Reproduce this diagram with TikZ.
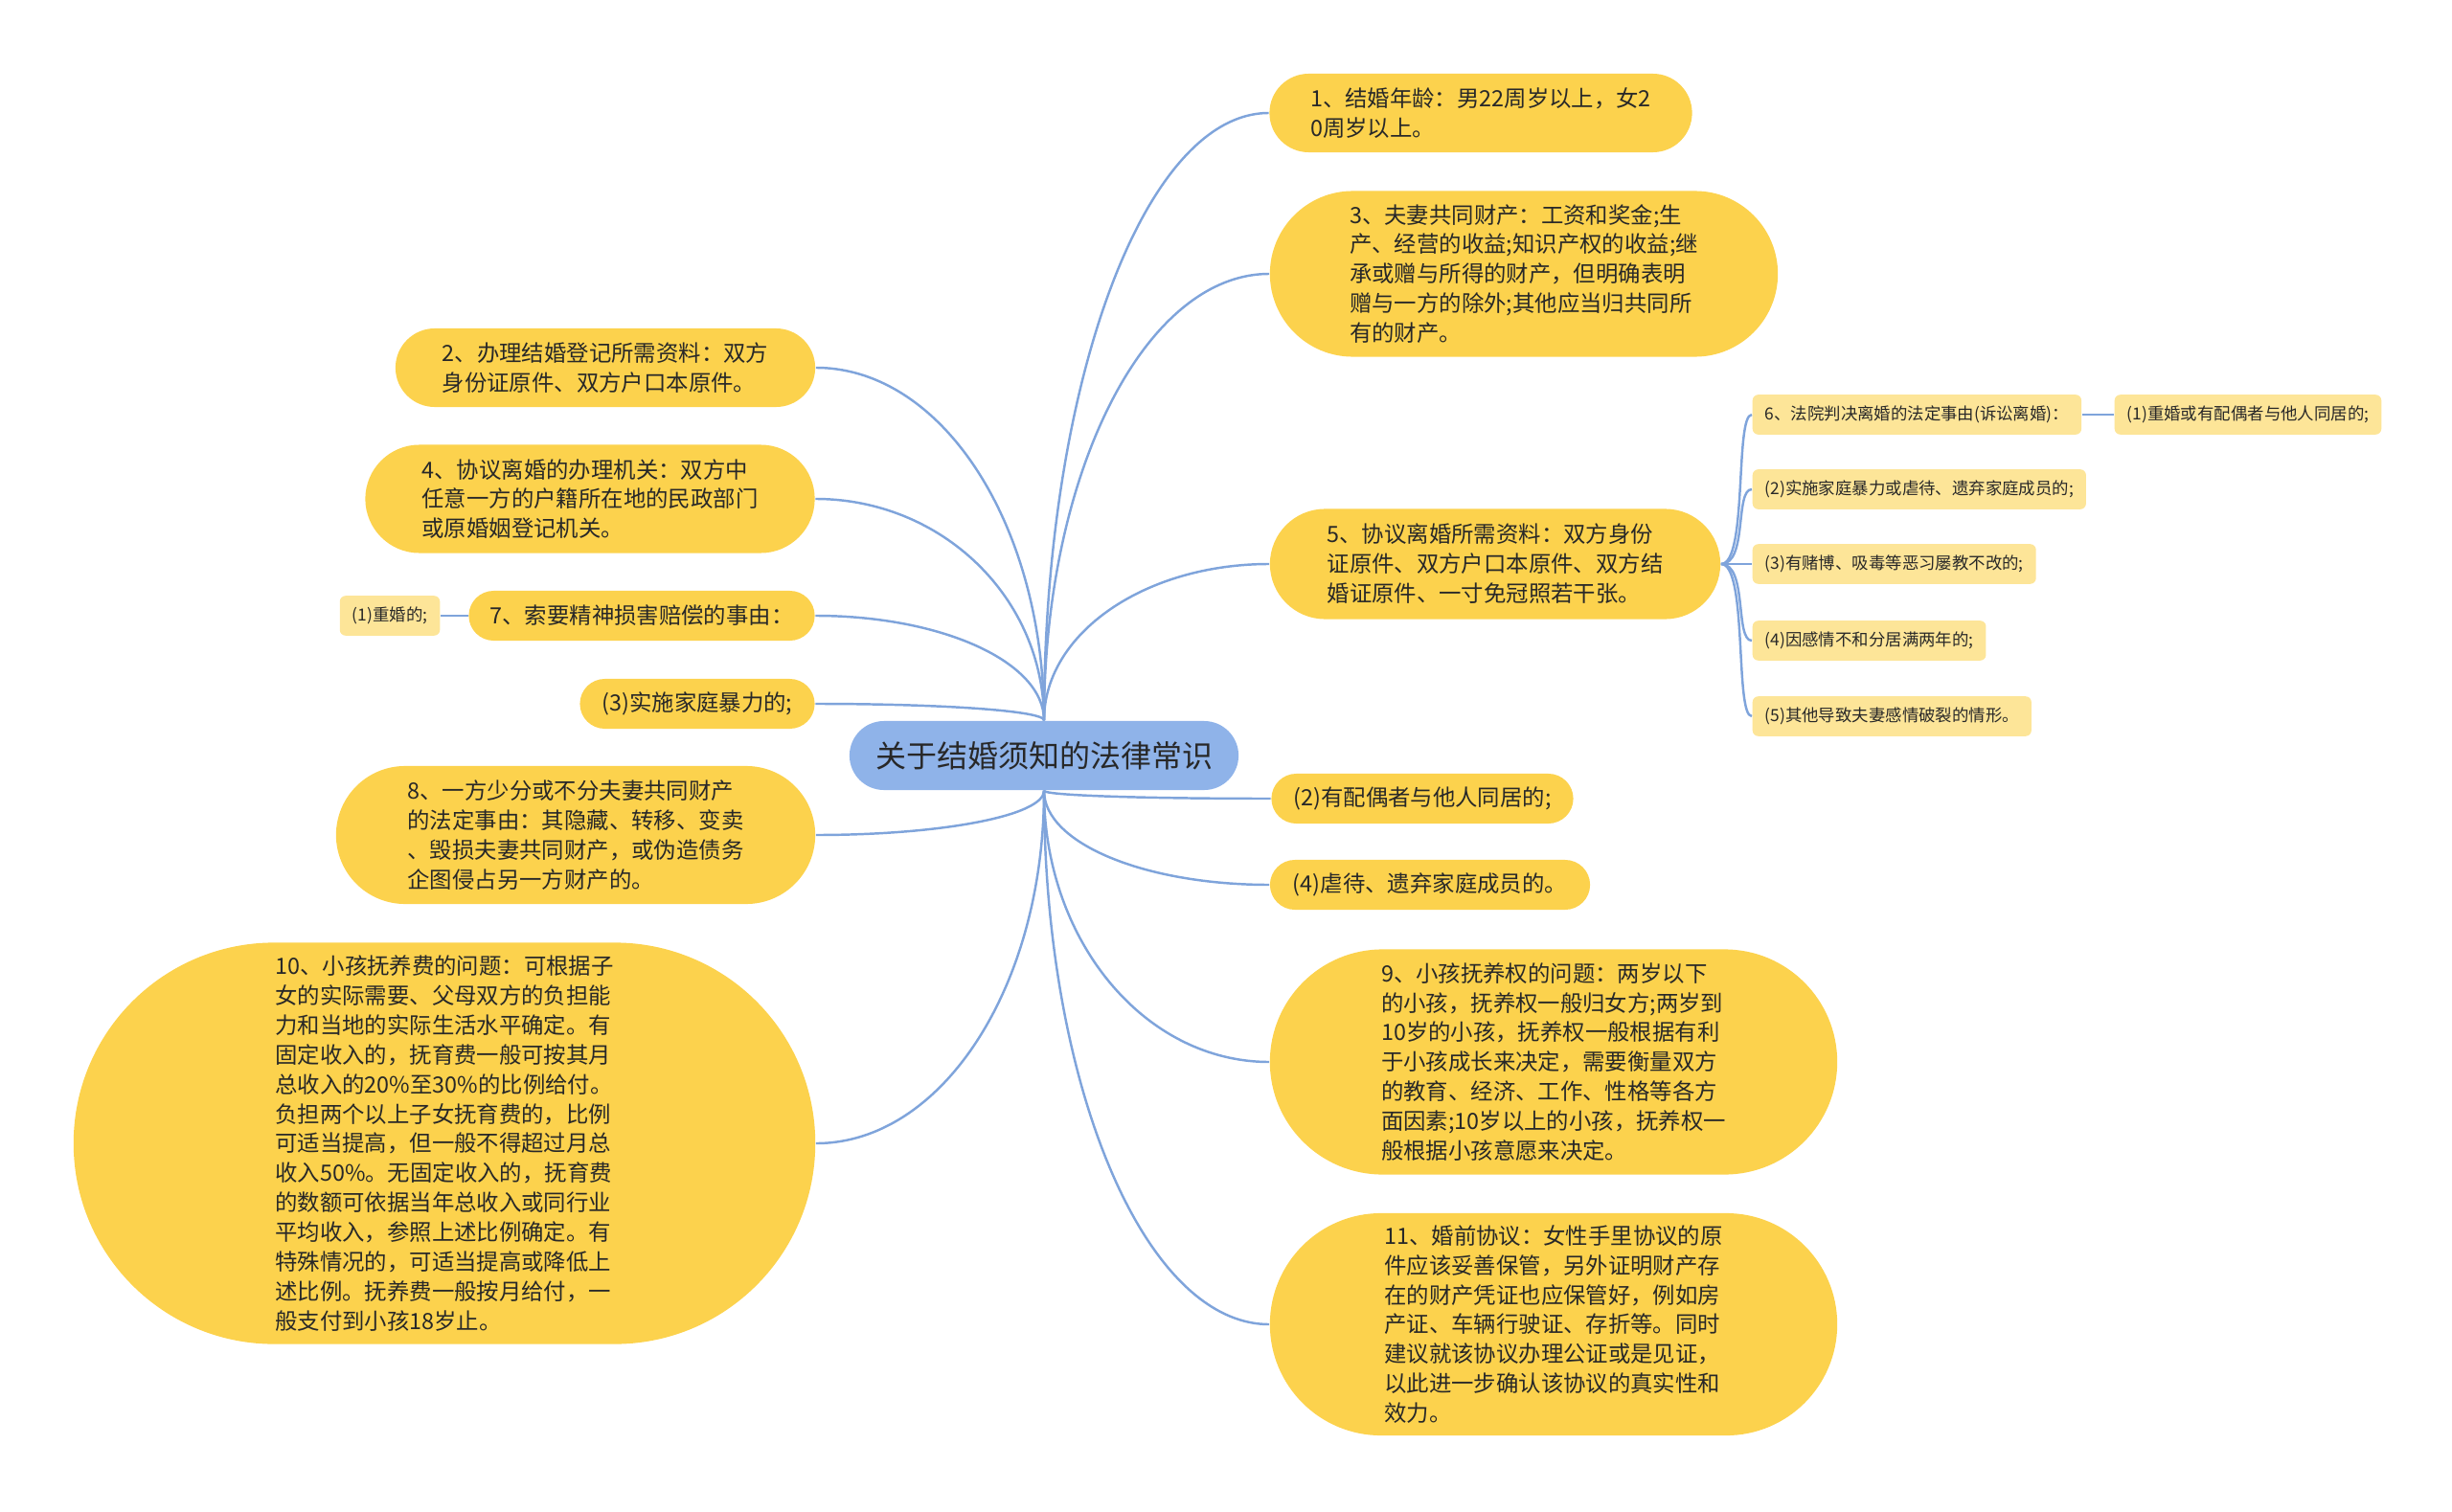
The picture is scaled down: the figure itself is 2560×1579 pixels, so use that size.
\documentclass[tikz,border=0pt]{standalone}
\usepackage{fontspec}
\setmainfont{Noto Sans CJK SC}
\usetikzlibrary{backgrounds}

\definecolor{rootblue}{RGB}{143,179,233}
\definecolor{topicyellow}{RGB}{252,210,77}
\definecolor{leafyellow}{RGB}{253,229,152}
\definecolor{linkblue}{RGB}{127,164,219}
\definecolor{textdark}{RGB}{40,40,40}

\begin{document}
\begin{tikzpicture}[
    x=0.01cm, y=-0.01cm,
    root/.style={rectangle, rounded corners=0.36cm, fill=rootblue, text=textdark, minimum width=4.06cm, minimum height=0.72cm, font=\fontsize{9.1}{11}\selectfont},
    topic/.style 2 args={rectangle, fill=topicyellow, text=textdark, align=left, inner sep=0.1cm, minimum width=#1cm, minimum height=#2cm, rounded corners=#2*0.5cm, font=\fontsize{6.65}{8.8}\selectfont},
    leaf/.style={rectangle, rounded corners=0.06cm, fill=leafyellow, text=textdark, inner xsep=0.13cm, minimum height=0.39cm, font=\fontsize{4.95}{6}\selectfont},
    link/.style={draw=linkblue, line width=0.7pt}
]
\useasboundingbox (0,0) rectangle (2560,1579);

% Root
\node[root] (root) at (1090,789) {关于结婚须知的法律常识};

% Right side
\node[topic={4.41}{0.82}] (n1) at (1546,118) {1、结婚年龄：男22周岁以上，女2\\0周岁以上。};
\node[topic={5.30}{1.73}] (n3) at (1591,286) {3、夫妻共同财产：工资和奖金;生\\产、经营的收益;知识产权的收益;继\\承或赠与所得的财产，但明确表明\\赠与一方的除外;其他应当归共同所\\有的财产。};
\node[topic={4.70}{1.15}] (n5) at (1561,589) {5、协议离婚所需资料：双方身份\\证原件、双方户口本原件、双方结\\婚证原件、一寸免冠照若干张。};
\node[topic={3.15}{0.52}] (p2) at (1485,834) {(2)有配偶者与他人同居的;};
\node[topic={3.34}{0.52}] (p4) at (1493,924) {(4)虐待、遗弃家庭成员的。};
\node[topic={5.92}{2.35}] (n9) at (1622,1109) {9、小孩抚养权的问题：两岁以下\\的小孩，抚养权一般归女方;两岁到\\10岁的小孩，抚养权一般根据有利\\于小孩成长来决定，需要衡量双方\\的教育、经济、工作、性格等各方\\面因素;10岁以上的小孩，抚养权一\\般根据小孩意愿来决定。};
\node[topic={5.92}{2.32}] (n11) at (1622,1383) {11、婚前协议：女性手里协议的原\\件应该妥善保管，另外证明财产存\\在的财产凭证也应保管好，例如房\\产证、车辆行驶证、存折等。同时\\建议就该协议办理公证或是见证，\\以此进一步确认该协议的真实性和\\效力。};

% Leaves of 5
\node[leaf, anchor=west] (n6) at (1829,433) {6、法院判决离婚的法定事由(诉讼离婚)：};
\node[leaf, anchor=west] (n61) at (2207,433) {(1)重婚或有配偶者与他人同居的;};
\node[leaf, anchor=west] (l2) at (1829,511) {(2)实施家庭暴力或虐待、遗弃家庭成员的;};
\node[leaf, anchor=west] (l3) at (1829,589) {(3)有赌博、吸毒等恶习屡教不改的;};
\node[leaf, anchor=west] (l4) at (1829,669) {(4)因感情不和分居满两年的;};
\node[leaf, anchor=west] (l5) at (1829,748) {(5)其他导致夫妻感情破裂的情形。};

% Left side
\node[topic={4.38}{0.82}] (n2) at (632,384) {2、办理结婚登记所需资料：双方\\身份证原件、双方户口本原件。};
\node[topic={4.69}{1.13}] (n4) at (616,521) {4、协议离婚的办理机关：双方中\\任意一方的户籍所在地的民政部门\\或原婚姻登记机关。};
\node[topic={3.61}{0.52}] (n7) at (670,643) {7、索要精神损害赔偿的事由：};
\node[leaf, anchor=east] (n71) at (460,643) {(1)重婚的;};
\node[topic={2.45}{0.52}] (c3) at (728,735) {(3)实施家庭暴力的;};
\node[topic={5.00}{1.44}] (n8) at (601,872) {8、一方少分或不分夫妻共同财产\\的法定事由：其隐藏、转移、变卖\\、毁损夫妻共同财产，或伪造债务\\企图侵占另一方财产的。};
\node[topic={7.74}{4.19}] (n10) at (464,1194) {10、小孩抚养费的问题：可根据子\\女的实际需要、父母双方的负担能\\力和当地的实际生活水平确定。有\\固定收入的，抚育费一般可按其月\\总收入的20\%至30\%的比例给付。\\负担两个以上子女抚育费的，比例\\可适当提高，但一般不得超过月总\\收入50\%。无固定收入的，抚育费\\的数额可依据当年总收入或同行业\\平均收入，参照上述比例确定。有\\特殊情况的，可适当提高或降低上\\述比例。抚养费一般按月给付，一\\般支付到小孩18岁止。};

% Links
\begin{scope}[on background layer]
\draw[link] (root.north) .. controls +(0,-351) and +(-130,0) .. (n1.west);
\draw[link] (root.north) .. controls +(0,-258) and +(-130,0) .. (n3.west);
\draw[link] (root.north) .. controls +(0,-91) and +(-130,0) .. (n5.west);
\draw[link] (root.south) .. controls +(0,5) and +(-130,0) .. (p2.west);
\draw[link] (root.south) .. controls +(0,55) and +(-130,0) .. (p4.west);
\draw[link] (root.south) .. controls +(0,157) and +(-130,0) .. (n9.west);
\draw[link] (root.south) .. controls +(0,308) and +(-130,0) .. (n11.west);
\draw[link] (root.north) .. controls +(0,-204) and +(132,0) .. (n2.east);
\draw[link] (root.north) .. controls +(0,-128) and +(132,0) .. (n4.east);
\draw[link] (root.north) .. controls +(0,-61) and +(132,0) .. (n7.east);
\draw[link] (root.north) .. controls +(0,-10) and +(132,0) .. (c3.east);
\draw[link] (root.south) .. controls +(0,26) and +(132,0) .. (n8.east);
\draw[link] (root.south) .. controls +(0,204) and +(132,0) .. (n10.east);
\draw[link] (n5.east) .. controls +(28,0) and +(-18,0) .. (n6.west);
\draw[link] (n5.east) .. controls +(28,0) and +(-18,0) .. (l2.west);
\draw[link] (n5.east) -- (l3.west);
\draw[link] (n5.east) .. controls +(28,0) and +(-18,0) .. (l4.west);
\draw[link] (n5.east) .. controls +(28,0) and +(-18,0) .. (l5.west);
\draw[link] (n6.east) -- (n61.west);
\draw[link] (n7.west) -- (n71.east);
\end{scope}

\end{tikzpicture}
\end{document}
